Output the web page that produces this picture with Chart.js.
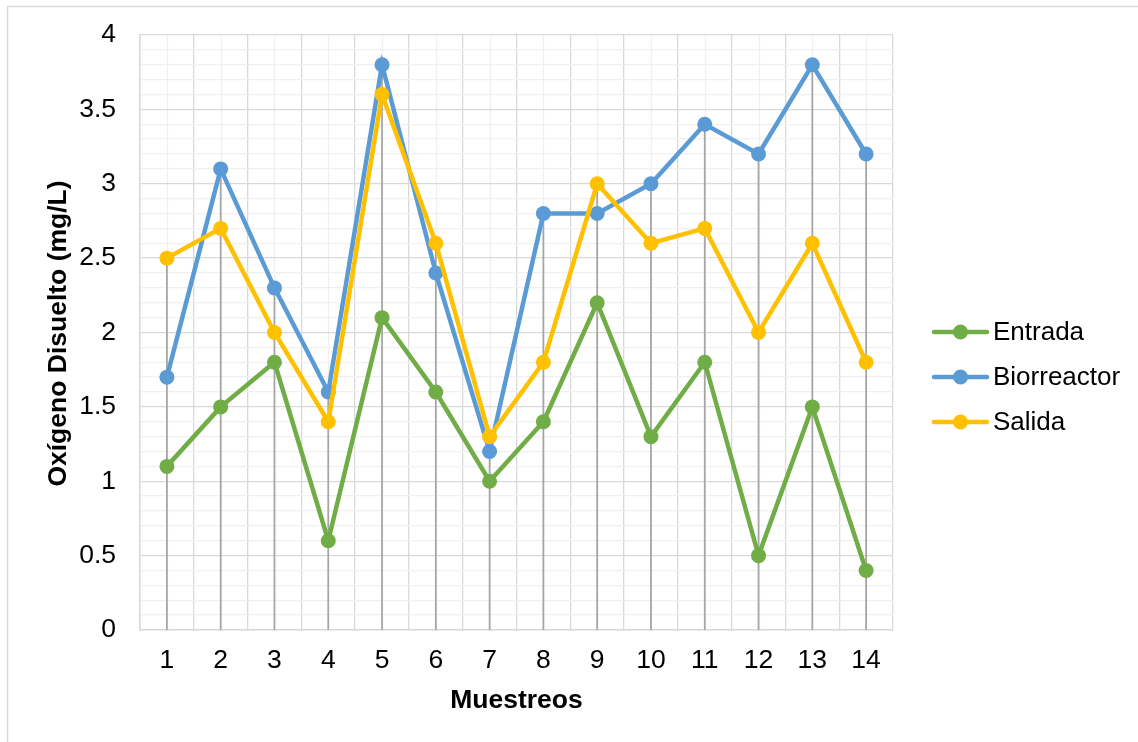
<!DOCTYPE html>
<html>
<head>
<meta charset="utf-8">
<script src="https://cdn.jsdelivr.net/npm/chart.js@4.4.1/dist/chart.umd.min.js"></script>
<style>
  html, body { margin: 0; padding: 0; background: #ffffff; }
  #wrap { position: relative; width: 1138px; height: 742px; }
</style>
</head>
<body>
<div id="wrap"><canvas id="c" width="1138" height="742"></canvas></div>
<script>
// Sampling rounds and dissolved-oxygen readings (mg/L)
const categories = ['1','2','3','4','5','6','7','8','9','10','11','12','13','14'];
const entrada     = [1.1, 1.5, 1.8, 0.6, 2.1, 1.6, 1.0, 1.4, 2.2, 1.3, 1.8, 0.5, 1.5, 0.4];
const biorreactor = [1.7, 3.1, 2.3, 1.6, 3.8, 2.4, 1.2, 2.8, 2.8, 3.0, 3.4, 3.2, 3.8, 3.2];
const salida      = [2.5, 2.7, 2.0, 1.4, 3.6, 2.6, 1.3, 1.8, 3.0, 2.6, 2.7, 2.0, 2.6, 1.8];
const seriesNames = ['Entrada', 'Biorreactor', 'Salida'];
const seriesColors = ['#70ad47', '#5b9bd5', '#ffc000'];
const yTitle = 'Oxígeno Disuelto (mg/L)';
const xTitle = 'Muestreos';

const FONT = '"Liberation Sans", Arial, sans-serif';
const TEXT_SIZE = 26.5;
const MAJOR = '#d9d9d9';
const MINOR = '#f0f0f0';

function isMajor(v) { return Math.abs(v * 2 - Math.round(v * 2)) < 1e-6; }

// Outer frame, light vertical lines at category centres, axis titles and legend
const decor = {
  id: 'decor',
  beforeDraw(chart) {
    const ctx = chart.ctx, a = chart.chartArea, x = chart.scales.x;
    ctx.save();
    ctx.fillStyle = '#ffffff';
    ctx.fillRect(0, 0, chart.width, chart.height);
    ctx.strokeStyle = MAJOR;
    ctx.lineWidth = 1.5;
    ctx.beginPath();
    ctx.moveTo(7.5, chart.height + 5);
    ctx.lineTo(7.5, 6.5);
    ctx.lineTo(chart.width + 5, 6.5);
    ctx.stroke();
    ctx.strokeStyle = MINOR;
    ctx.lineWidth = 1.3;
    for (let i = 0; i < categories.length; i++) {
      const px = Math.round(x.getPixelForValue(i)) + 0.5;
      ctx.beginPath();
      ctx.moveTo(px, a.top);
      ctx.lineTo(px, a.bottom);
      ctx.stroke();
    }
    ctx.restore();
  },
  beforeDatasetsDraw(chart) {
    // drop lines from the highest reading of each round down to the axis
    const ctx = chart.ctx, a = chart.chartArea, x = chart.scales.x, y = chart.scales.y;
    ctx.save();
    ctx.strokeStyle = '#a5a5a5';
    ctx.lineWidth = 1.75;
    for (let i = 0; i < categories.length; i++) {
      const top = Math.max(entrada[i], biorreactor[i], salida[i]);
      const px = x.getPixelForValue(i);
      ctx.beginPath();
      ctx.moveTo(px, y.getPixelForValue(top));
      ctx.lineTo(px, a.bottom);
      ctx.stroke();
    }
    ctx.restore();
  },
  afterDraw(chart) {
    const ctx = chart.ctx, a = chart.chartArea;
    ctx.save();
    ctx.fillStyle = '#000000';
    ctx.font = 'bold ' + TEXT_SIZE + 'px ' + FONT;
    ctx.textAlign = 'center';
    ctx.textBaseline = 'middle';
    ctx.fillText(xTitle, (a.left + a.right) / 2, 701);
    ctx.translate(59, (a.top + a.bottom) / 2 + 1);
    ctx.rotate(-Math.PI / 2);
    ctx.fillText(yTitle, 0, 0);
    ctx.restore();

    // legend: line sample with a marker, then the series name
    ctx.save();
    const ys = [332, 377, 422];
    for (let i = 0; i < seriesNames.length; i++) {
      ctx.strokeStyle = seriesColors[i];
      ctx.fillStyle = seriesColors[i];
      ctx.lineWidth = 4.5;
      ctx.lineCap = 'round';
      ctx.beginPath();
      ctx.moveTo(934, ys[i]);
      ctx.lineTo(987, ys[i]);
      ctx.stroke();
      ctx.beginPath();
      ctx.arc(960.5, ys[i], 7.5, 0, Math.PI * 2);
      ctx.fill();
      ctx.fillStyle = '#000000';
      ctx.font = '26px ' + FONT;
      ctx.textAlign = 'left';
      ctx.textBaseline = 'middle';
      ctx.fillText(seriesNames[i], 993, ys[i] + 1);
    }
    ctx.restore();
  }
};

const datasets = [entrada, biorreactor, salida].map((vals, i) => ({
  label: seriesNames[i],
  data: vals,
  borderColor: seriesColors[i],
  backgroundColor: seriesColors[i],
  pointBackgroundColor: seriesColors[i],
  pointBorderColor: seriesColors[i],
  borderWidth: 4.5,
  pointRadius: 7.5,
  pointHoverRadius: 7.5,
  pointBorderWidth: 0,
  tension: 0,
  fill: false,
  order: 3 - i
}));

new Chart(document.getElementById('c'), {
  type: 'line',
  data: { labels: categories, datasets },
  plugins: [decor],
  options: {
    responsive: false,
    animation: false,
    devicePixelRatio: 1,
    layout: { padding: { left: 0, top: 35, right: 245, bottom: 0 } },
    plugins: { legend: { display: false }, tooltip: { enabled: false } },
    scales: {
      x: {
        type: 'category',
        offset: true,
        grid: { offset: true, color: MAJOR, lineWidth: 1.3, drawTicks: false },
        border: { display: true, color: MAJOR, width: 1.5 },
        ticks: { color: '#000000', font: { family: FONT, size: TEXT_SIZE }, padding: 15, maxRotation: 0, autoSkip: false },
        afterFit(s) { s.height = 112; s.paddingLeft = 0; s.paddingRight = 0; }
      },
      y: {
        min: 0,
        max: 4,
        grid: {
          color: (c) => isMajor(c.tick.value) ? MAJOR : MINOR,
          lineWidth: 1.3,
          drawTicks: false
        },
        border: { display: true, color: MAJOR, width: 1.5 },
        ticks: {
          stepSize: 0.1,
          autoSkip: false,
          color: '#000000',
          font: { family: FONT, size: TEXT_SIZE },
          padding: 24,
          callback: (v) => isMajor(v) ? String(Math.round(v * 2) / 2) : ''
        },
        afterFit(s) { s.width = 140; s.paddingTop = 0; s.paddingBottom = 0; }
      }
    }
  }
});
</script>
</body>
</html>
